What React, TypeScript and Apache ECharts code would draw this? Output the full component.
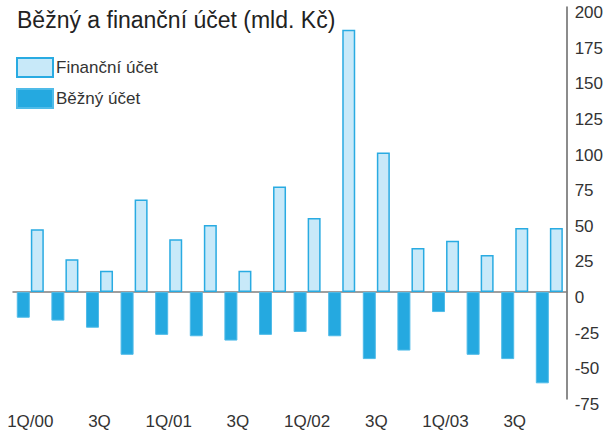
import React, { useEffect, useRef } from "react";
import * as echarts from "echarts";

const categories = [
  "1Q/00", "2Q/00", "3Q", "4Q/00",
  "1Q/01", "2Q/01", "3Q", "4Q/01",
  "1Q/02", "2Q/02", "3Q", "4Q/02",
  "1Q/03", "2Q/03", "3Q", "4Q/03",
];
const bezny = [-18, -20, -25, -44, -30, -31, -34, -30, -28, -31, -47, -41, -14, -44, -47, -64];
const financni = [44, 23, 15, 65, 37, 47, 15, 74, 52, 184, 98, 31, 36, 26, 45, 45];
const yTicks = { min: -75, max: 200, interval: 25 };

export default function App() {
  const ref = useRef<HTMLDivElement>(null);
  useEffect(() => {
    if (!ref.current) return;
    const chart = echarts.init(ref.current, null, { renderer: "svg" });
    const font = "'Liberation Sans', Arial, sans-serif";
    chart.setOption({
      animation: false,
      title: {
        text: "Běžný a finanční účet (mld. Kč)",
        left: 17,
        top: 8,
        padding: 0,
        textStyle: { fontSize: 23, fontWeight: "normal", color: "#222", fontFamily: font },
      },
      legend: {
        orient: "vertical",
        left: 16,
        top: 57,
        padding: 0,
        icon: "rect",
        itemWidth: 36,
        itemHeight: 19,
        itemGap: 10,
        data: ["Finanční účet", "Běžný účet"],
        textStyle: { fontSize: 17, color: "#333", fontFamily: font, padding: [0, 0, 0, -2] },
      },
      grid: { left: 13, right: 36, top: 7, bottom: 29, containLabel: false },
      xAxis: [
        {
          type: "category",
          data: categories,
          position: "bottom",
          axisLine: { show: false, onZero: false },
          axisTick: { show: false },
          axisLabel: {
            interval: 1,
            margin: 14,
            fontSize: 17,
            color: "#333",
            fontFamily: font,
            formatter: (v: string, i: number) => (i % 4 === 0 ? v : v.replace(/\/\d+$/, "")),
          },
        },
        {
          type: "category",
          data: categories,
          position: "bottom",
          axisLine: { show: true, onZero: true, lineStyle: { color: "#7f7f7f", width: 1.5 } },
          axisTick: { show: false },
          axisLabel: { show: false },
        },
      ],
      yAxis: {
        type: "value",
        position: "right",
        min: yTicks.min,
        max: yTicks.max,
        interval: yTicks.interval,
        axisLine: { show: true, lineStyle: { color: "#666", width: 1.5 } },
        axisTick: { show: false },
        splitLine: { show: false },
        axisLabel: {
          margin: 8,
          fontSize: 17,
          color: "#333",
          fontFamily: font,
          verticalAlign: "top",
          lineHeight: 11,
        },
      },
      series: [
        {
          name: "Běžný účet",
          type: "bar",
          data: bezny,
          barWidth: 13,
          barGap: "8%",
          itemStyle: { color: "#25a9e0", borderColor: "#4fbbe8", borderWidth: 1 },
        },
        {
          name: "Finanční účet",
          type: "bar",
          data: financni,
          barWidth: 13,
          barGap: "8%",
          itemStyle: { color: "#c8e9f9", borderColor: "#29abe2", borderWidth: 1.5 },
        },
      ],
    });
    return () => chart.dispose();
  }, []);
  return <div ref={ref} style={{ width: 606, height: 430, position: "absolute", left: 0, top: 0 }} />;
}
